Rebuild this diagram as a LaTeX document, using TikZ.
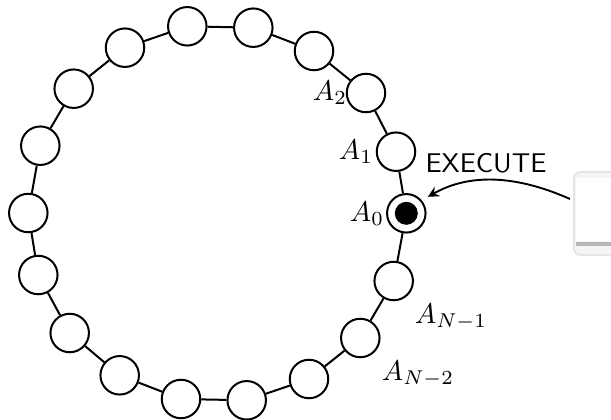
\documentclass[tikz,border=0pt]{standalone}
\usetikzlibrary{arrows.meta,calc}
\definecolor{phoneedge}{gray}{0.90}
\definecolor{phonebar}{gray}{0.72}
\tikzset{
  x=1pt,y=-1pt,
  ring/.style={circle,draw=black,line width=2pt,fill=white,minimum size=38.5pt,inner sep=0pt},
  link/.style={line width=2pt,black},
  lbl/.style={inner sep=0pt,scale=2.85},
  callarrow/.style={line width=1.9pt,shorten >=7pt,-{Stealth[length=11pt,width=11pt,inset=4pt]}},
}
\begin{document}
\begin{tikzpicture}
\path[use as bounding box] (0,0) rectangle (611,420);
\clip (0,0) rectangle (611,420);
% links and rings
\foreach \n/\px/\py in {a/406.3/213.3,b/396/151.7,c/366/93,d/314/51,e/253.3/27.7,f/187.3/26.3,g/125/47.7,h/73.7/88.7,i/40.3/145.7,j/28.3/213,k/38.3/275,l/69.7/333,m/119.7/375.3,n/181/399,o/246.7/400.3,p/309/379,q/360.3/338,r/393.7/281}{
  \node[ring] (\n) at (\px,\py) {};
}
\foreach \s/\t in {a/b,b/c,c/d,d/e,e/f,f/g,g/h,h/i,i/j,j/k,k/l,l/m,m/n,n/o,o/p,p/q,q/r,r/a}{
  \draw[link] (\s) -- (\t);
}
% executing head
\node[circle,fill=black,minimum size=23pt,inner sep=0pt] (head) at (a) {};
% labels
\node[lbl] (la2) at (330,93) {$A_2$};
\node[lbl] (la1) at (356,152) {$A_1$};
\node[lbl] (la0) at (367,214) {$A_0$};
\node[lbl] (lan1) at (451,317) {$A_{N-1}$};
\node[lbl] (lan2) at (418,374) {$A_{N-2}$};
\node[lbl,scale=0.95,font=\sffamily] (exec) at (486,163.5) {EXECUTE};
% phone
\draw[draw=phoneedge,line width=1.6pt,fill=phoneedge!45,rounded corners=6pt] (574,172) rectangle (640,255);
\fill[white] (575.5,178) rectangle (640,241);
\fill[phonebar] (575.5,241.5) rectangle (640,246);
\coordinate (ph) at (570,199);
\draw[callarrow] (ph) .. controls (525,179) and (475,170) .. (a.40);
\end{tikzpicture}
\end{document}
